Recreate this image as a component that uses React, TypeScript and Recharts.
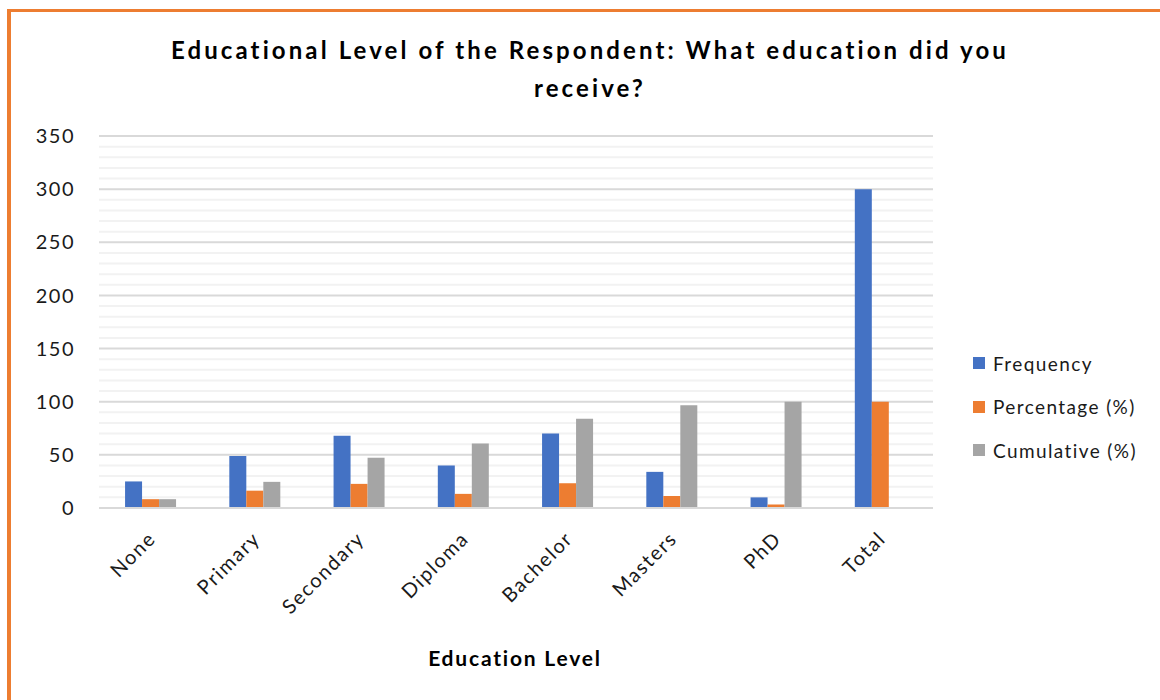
import React from 'react';
import { BarChart, Bar, XAxis, YAxis, CartesianGrid } from 'recharts';

const levels = ['None', 'Primary', 'Secondary', 'Diploma', 'Bachelor', 'Masters', 'PhD', 'Total'];
const frequency = [25, 49, 68, 40, 70, 34, 10, 300];
const percentage = [8.3, 16.3, 22.7, 13.3, 23.3, 11.3, 3.3, 100];
const cumulative = [8.3, 24.6, 47.3, 60.6, 83.9, 96.7, 100, null];
const yTicks = [0, 50, 100, 150, 200, 250, 300, 350];
const minorLines = [10, 20, 30, 40, 60, 70, 80, 90, 110, 120, 130, 140, 160, 170, 180, 190, 210, 220, 230, 240, 260, 270, 280, 290, 310, 320, 330, 340];

const seriesNames = ['Frequency', 'Percentage (%)', 'Cumulative (%)'];
const colors = ['#4472C4', '#ED7D31', '#A5A5A5'];

const data = levels.map((level, i) => ({
  level,
  frequency: frequency[i],
  percentage: percentage[i],
  cumulative: cumulative[i],
}));

const font = 'Lato, "Open Sans", sans-serif';

function LevelTick({ x, y, payload }: any) {
  const ax = x + 6;
  const ay = y + 30;
  return (
    <text
      x={ax}
      y={ay}
      transform={`rotate(-45 ${ax} ${ay})`}
      textAnchor="end"
      fill="#1a1a1a"
      fontSize={20}
      fontFamily={font}
      letterSpacing={1.6}
    >
      {payload.value}
    </text>
  );
}

export default function App() {
  return (
    <div style={{ position: 'absolute', left: 0, top: 0, width: 1160, height: 700, background: '#fff', overflow: 'hidden', fontFamily: font }}>
      <div style={{ position: 'absolute', left: 7, top: 9, width: 1200, height: 720, borderLeft: '4px solid #ED7D31', borderTop: '3px solid #ED7D31' }} />
      <div style={{ position: 'absolute', left: 90, width: 1000, top: 31, textAlign: 'center', fontWeight: 700, fontSize: 24, lineHeight: '38px', letterSpacing: 3.1, color: '#000' }}>
        Educational Level of the Respondent: What education did you
        <br />
        receive?
      </div>
      <BarChart
        style={{ position: 'absolute', left: 0, top: 0 }}
        width={1160}
        height={700}
        data={data}
        margin={{ top: 136, right: 227, bottom: 92, left: 19 }}
        barCategoryGap="25%"
        barGap={0}
      >
        <CartesianGrid vertical={false} horizontalValues={minorLines} stroke="#F2F2F2" strokeWidth={2} />
        <CartesianGrid vertical={false} horizontalValues={yTicks} stroke="#D9D9D9" strokeWidth={2} />
        <XAxis
          dataKey="level"
          height={100}
          interval={0}
          tickLine={false}
          tickSize={0}
          axisLine={{ stroke: '#D9D9D9', strokeWidth: 2 }}
          tick={<LevelTick />}
        />
        <YAxis
          width={80}
          domain={[0, 350]}
          ticks={yTicks}
          interval={0}
          axisLine={false}
          tickLine={false}
          tickSize={0}
          tickMargin={24}
          tick={{ fill: '#1a1a1a', fontSize: 20, fontFamily: font, letterSpacing: 1.5 }}
        />
        <Bar dataKey="frequency" name={seriesNames[0]} fill={colors[0]} isAnimationActive={false} />
        <Bar dataKey="percentage" name={seriesNames[1]} fill={colors[1]} isAnimationActive={false} />
        <Bar dataKey="cumulative" name={seriesNames[2]} fill={colors[2]} isAnimationActive={false} />
      </BarChart>
      <div style={{ position: 'absolute', left: 0, width: 1030, top: 645, textAlign: 'center', fontWeight: 700, fontSize: 21, letterSpacing: 1.8, color: '#000' }}>
        Education Level
      </div>
      {seriesNames.map((name, i) => (
        <div key={name} style={{ position: 'absolute', left: 973, top: 350 + i * 43.5, height: 26, display: 'flex', alignItems: 'center', fontSize: 19, letterSpacing: 1.4, color: '#1a1a1a' }}>
          <span style={{ display: 'inline-block', width: 12, height: 12, background: colors[i], marginRight: 8 }} />
          {name}
        </div>
      ))}
    </div>
  );
}
